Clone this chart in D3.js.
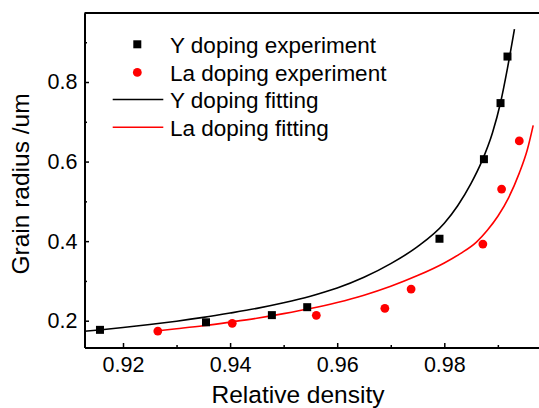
<!DOCTYPE html>
<html>
<head>
<meta charset="utf-8">
<script src="https://cdn.jsdelivr.net/npm/d3@7"></script>
<style>
  html, body { margin: 0; padding: 0; background: #fff; }
  svg { display: block; }
  text { font-family: "Liberation Sans", Arial, sans-serif; fill: #000; }
</style>
</head>
<body>
<svg id="chart" width="539" height="408"></svg>
<script>
// ---- data ----
const yDopingDensity = [0.9157, 0.9355, 0.9478, 0.9544, 0.9791, 0.9874, 0.9905, 0.9918];
const yDopingRadius  = [0.177, 0.196, 0.214, 0.234, 0.406, 0.606, 0.747, 0.864];

const laDopingDensity = [0.9265, 0.9404, 0.9561, 0.9689, 0.9738, 0.9872, 0.9907, 0.9940];
const laDopingRadius  = [0.174, 0.1935, 0.2136, 0.231, 0.2795, 0.3925, 0.531, 0.652];

// fitted curves
const yFitDensity = [0.9128, 0.9160, 0.9200, 0.9250, 0.9300, 0.9350, 0.9400, 0.9450, 0.9500, 0.9550, 0.9600, 0.9650, 0.9700, 0.9750, 0.9800, 0.9825, 0.9850, 0.9870, 0.9890, 0.9905, 0.9918, 0.9931];
const yFitRadius  = [0.1733, 0.1774, 0.1828, 0.1904, 0.1988, 0.2083, 0.2192, 0.2310, 0.2450, 0.2615, 0.2820, 0.3090, 0.3434, 0.3860, 0.4450, 0.4890, 0.5452, 0.6005, 0.6726, 0.7480, 0.8350, 0.9330];

const laFitDensity = [0.9266, 0.9300, 0.9350, 0.9400, 0.9450, 0.9500, 0.9550, 0.9600, 0.9650, 0.9700, 0.9750, 0.9800, 0.9830, 0.9860, 0.9880, 0.9900, 0.9920, 0.9940, 0.9955, 0.9966];
const laFitRadius  = [0.1749, 0.1799, 0.1875, 0.1965, 0.2062, 0.2177, 0.2306, 0.2458, 0.2641, 0.2866, 0.3134, 0.3452, 0.3688, 0.3977, 0.4268, 0.4626, 0.5090, 0.5710, 0.6296, 0.6910];

const xMajorTicks = [0.92, 0.94, 0.96, 0.98];
const xMinorTicks = [0.93, 0.95, 0.97, 0.99];
const yMajorTicks = [0.2, 0.4, 0.6, 0.8];
const yMinorTicks = [0.3, 0.5, 0.7, 0.9];

const legendLabels = ["Y doping experiment", "La doping experiment", "Y doping fitting", "La doping fitting"];
const xTitle = "Relative density";
const yTitle = "Grain radius /um";

// ---- layout ----
const svg = d3.select("#chart");
const plotL = 84.5, plotR = 551.4, plotT = 13, plotB = 347.5;

const x = d3.scaleLinear().domain([0.91281, 1.0]).range([plotL, plotR]);
const y = d3.scaleLinear().domain([0.13264, 0.97348]).range([plotB, plotT]);

const zip = (a, b) => a.map((v, i) => [v, b[i]]);

// frame (top and right borders)
svg.append("path")
  .attr("d", `M${plotL},${plotT}H${plotR}V${plotB}`)
  .attr("fill", "none").attr("stroke", "#000").attr("stroke-width", 2);

// axes
function styleAxis(g) {
  g.selectAll(".domain").attr("stroke", "#000").attr("stroke-width", 2);
  g.selectAll(".tick line").attr("stroke", "#000").attr("stroke-width", 1.5);
  g.selectAll("text").style("font-size", "21.5px").attr("fill", "#000")
    .style("font-family", '"Liberation Sans", Arial, sans-serif');
}

svg.append("g").attr("transform", `translate(0,${plotB})`)
  .call(d3.axisBottom(x).tickValues(xMinorTicks).tickSize(-2.5).tickSizeOuter(0).tickFormat(""))
  .call(styleAxis);
svg.append("g").attr("transform", `translate(0,${plotB})`)
  .call(d3.axisBottom(x).tickValues(xMajorTicks).tickSize(-4.5).tickSizeOuter(0).tickPadding(9.5).tickFormat(d3.format(".2f")))
  .call(styleAxis);

svg.append("g").attr("transform", `translate(${plotL},0)`)
  .call(d3.axisLeft(y).tickValues(yMinorTicks).tickSize(-2.5).tickSizeOuter(0).tickFormat(""))
  .call(styleAxis);
svg.append("g").attr("transform", `translate(${plotL},0)`)
  .call(d3.axisLeft(y).tickValues(yMajorTicks).tickSize(-4.5).tickSizeOuter(0).tickPadding(7).tickFormat(d3.format(".1f")))
  .call(styleAxis);

// axis titles
svg.append("text")
  .attr("x", 298).attr("y", 403)
  .attr("text-anchor", "middle")
  .style("font-size", "24.5px")
  .text(xTitle);

svg.append("text")
  .attr("transform", "translate(29,184) rotate(-90)")
  .attr("text-anchor", "middle")
  .style("font-size", "24.5px")
  .text(yTitle);

// fitted curves
const line = d3.line().x(d => x(d[0])).y(d => y(d[1])).curve(d3.curveMonotoneX);

svg.append("path").datum(zip(yFitDensity, yFitRadius))
  .attr("d", line).attr("fill", "none").attr("stroke", "#000").attr("stroke-width", 1.6);
svg.append("path").datum(zip(laFitDensity, laFitRadius))
  .attr("d", line).attr("fill", "none").attr("stroke", "#ff0000").attr("stroke-width", 1.6);

// markers
const sq = 8;
svg.append("g").selectAll("rect").data(zip(yDopingDensity, yDopingRadius)).join("rect")
  .attr("x", d => x(d[0]) - sq / 2).attr("y", d => y(d[1]) - sq / 2)
  .attr("width", sq).attr("height", sq).attr("fill", "#000");

svg.append("g").selectAll("circle").data(zip(laDopingDensity, laDopingRadius)).join("circle")
  .attr("cx", d => x(d[0])).attr("cy", d => y(d[1])).attr("r", 4.4).attr("fill", "#ff0000");

// legend
const legendRows = [44.3, 72.4, 99.5, 127.3];
const lg = svg.append("g");
lg.append("rect").attr("x", 137.3 - sq / 2).attr("y", legendRows[0] - sq / 2)
  .attr("width", sq).attr("height", sq).attr("fill", "#000");
lg.append("circle").attr("cx", 137.3).attr("cy", legendRows[1]).attr("r", 4.4).attr("fill", "#ff0000");
lg.append("line").attr("x1", 112.7).attr("x2", 163.3).attr("y1", legendRows[2]).attr("y2", legendRows[2])
  .attr("stroke", "#000").attr("stroke-width", 1.6);
lg.append("line").attr("x1", 112.7).attr("x2", 163.3).attr("y1", legendRows[3]).attr("y2", legendRows[3])
  .attr("stroke", "#ff0000").attr("stroke-width", 1.6);
legendLabels.forEach((t, i) => {
  lg.append("text").attr("x", 170).attr("y", legendRows[i] + 8.3)
    .style("font-size", "22.5px").text(t);
});
</script>
</body>
</html>
